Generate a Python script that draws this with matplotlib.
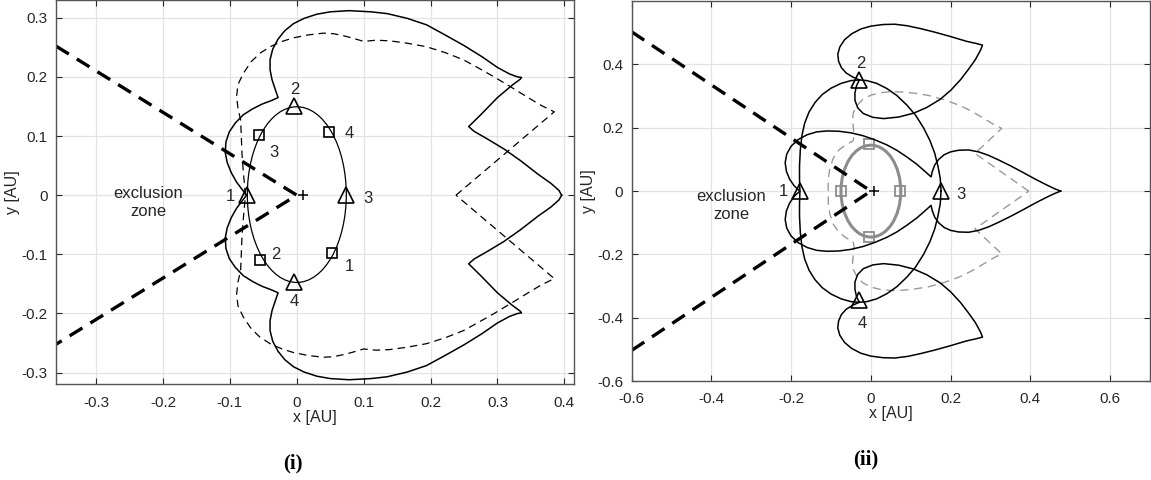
import matplotlib.pyplot as plt
from matplotlib.patches import Ellipse
import numpy as np

plt.rcParams['font.family'] = ['Liberation Sans', 'DejaVu Sans']

# ---- panel (i) data ----
# outer solid boundary, upper half (lower half is its mirror image)
l_sol_x = [0.396, 0.392, 0.380, 0.360, 0.335, 0.310, 0.285, 0.265, 0.257, 0.275, 0.300, 0.322,
           0.334, 0.336, 0.330, 0.318, 0.300, 0.277, 0.250, 0.220, 0.194, 0.165, 0.135, 0.111,
           0.078, 0.050, 0.030, 0.011, -0.005, -0.018, -0.028, -0.036, -0.040, -0.040, -0.037,
           -0.032, -0.028, -0.038, -0.052, -0.066, -0.080, -0.092, -0.101, -0.106, -0.107,
           -0.104, -0.098, -0.090, -0.082, -0.075]
l_sol_y = [0.0, 0.008, 0.020, 0.036, 0.058, 0.078, 0.095, 0.108, 0.116, 0.136, 0.165, 0.186,
           0.196, 0.199, 0.200, 0.205, 0.216, 0.234, 0.253, 0.272, 0.288, 0.299, 0.307, 0.310,
           0.312, 0.310, 0.306, 0.299, 0.290, 0.278, 0.264, 0.247, 0.229, 0.212, 0.195,
           0.178, 0.165, 0.160, 0.154, 0.146, 0.136, 0.122, 0.107, 0.090, 0.072,
           0.055, 0.038, 0.022, 0.010, 0.0]
# dashed boundary, upper half
l_dsh_x = [0.238, 0.385, 0.365, 0.343, 0.320, 0.295, 0.270, 0.249, 0.222, 0.194, 0.165, 0.139,
           0.118, 0.100, 0.085, 0.072, 0.055, 0.040, 0.017, -0.005, -0.022, -0.040, -0.055,
           -0.068, -0.080, -0.088, -0.090, -0.088, -0.084, -0.083, -0.082, -0.080, -0.078, -0.077]
l_dsh_y = [0.0, 0.141, 0.152, 0.167, 0.183, 0.200, 0.216, 0.229, 0.241, 0.251, 0.257, 0.261,
           0.262, 0.260, 0.265, 0.269, 0.273, 0.274, 0.271, 0.266, 0.260, 0.251, 0.240,
           0.226, 0.206, 0.187, 0.167, 0.147, 0.127, 0.100, 0.070, 0.040, 0.015, 0.0]
l_tri_x = [-0.075, -0.004, 0.073, -0.004]
l_tri_y = [0.0, 0.150, 0.0, -0.147]
l_tri_lx = [-0.100, -0.003, 0.107, -0.004]
l_tri_ly = [-0.003, 0.178, -0.006, -0.179]
l_sq_x = [0.053, -0.055, -0.056, 0.048]
l_sq_y = [-0.098, -0.110, 0.101, 0.106]
l_sq_lx = [0.079, -0.032, -0.034, 0.078]
l_sq_ly = [-0.120, -0.100, 0.072, 0.105]
l_ell = (0.0, 0.001, 0.148, 0.297)   # cx, cy, width, height
l_excl_x = [-0.36, 0.0, -0.36]
l_excl_y = [0.252, 0.0, -0.252]

# ---- panel (ii) data ----
# big oval through the four triangles, upper half
r_oval_x = [0.176, 0.174, 0.168, 0.160, 0.148, 0.132, 0.112, 0.090, 0.065, 0.040, 0.015, -0.010,
            -0.029, -0.050, -0.075, -0.100, -0.122, -0.140, -0.155, -0.166, -0.173, -0.177,
            -0.179, -0.179, -0.178]
r_oval_y = [0.0, 0.040, 0.080, 0.120, 0.160, 0.200, 0.240, 0.272, 0.302, 0.324, 0.340, 0.349,
            0.351, 0.349, 0.340, 0.325, 0.305, 0.280, 0.250, 0.215, 0.175, 0.130,
            0.080, 0.040, 0.0]
# top petal (bottom petal is its mirror image)
r_pet_x = [-0.029, -0.045, -0.062, -0.074, -0.081, -0.083, -0.078, -0.066, -0.048, -0.025, 0.000,
           0.030, 0.060, 0.092, 0.125, 0.160, 0.200, 0.240, 0.265, 0.280, 0.275, 0.262, 0.245,
           0.225, 0.200, 0.174, 0.140, 0.107, 0.070, 0.032, 0.005, -0.019, -0.033, -0.040,
           -0.040, -0.036, -0.029]
r_pet_y = [0.351, 0.360, 0.373, 0.390, 0.410, 0.432, 0.455, 0.478, 0.497, 0.512, 0.521,
           0.526, 0.527, 0.522, 0.513, 0.502, 0.488, 0.473, 0.466, 0.461, 0.445, 0.415, 0.385,
           0.352, 0.318, 0.290, 0.264, 0.246, 0.234, 0.229, 0.233, 0.245, 0.263, 0.287,
           0.310, 0.333, 0.351]
# right petal + central lobe, upper half
r_lobe_x = [0.476, 0.460, 0.440, 0.412, 0.380, 0.350, 0.321, 0.295, 0.270, 0.245, 0.220, 0.200,
            0.184, 0.170, 0.160, 0.154, 0.151, 0.135, 0.115, 0.090, 0.065, 0.040, 0.010, -0.020,
            -0.050, -0.080, -0.110, -0.136, -0.160, -0.182, -0.200, -0.211, -0.215, -0.212,
            -0.204, -0.192, -0.178]
r_lobe_y = [0.0, 0.008, 0.020, 0.038, 0.060, 0.080, 0.098, 0.113, 0.124, 0.130, 0.129, 0.124,
            0.115, 0.100, 0.082, 0.062, 0.045, 0.063, 0.085, 0.108, 0.129, 0.146, 0.162, 0.175,
            0.184, 0.189, 0.190, 0.187, 0.178, 0.163, 0.142, 0.117, 0.090, 0.063,
            0.038, 0.016, 0.0]
# grey dashed boundary, upper half
r_gd_x = [0.396, 0.261, 0.328, 0.305, 0.280, 0.250, 0.220, 0.183, 0.145, 0.110, 0.080, 0.055,
          0.025, 0.000, -0.020, -0.035, -0.044, -0.046, -0.044, -0.042, -0.045, -0.062, -0.080,
          -0.094, -0.103, -0.107, -0.107]
r_gd_y = [0.0, 0.119, 0.198, 0.213, 0.232, 0.254, 0.272, 0.289, 0.302, 0.309, 0.313, 0.314,
          0.311, 0.303, 0.290, 0.270, 0.248, 0.225, 0.200, 0.175, 0.158, 0.148, 0.130,
          0.105, 0.072, 0.036, 0.0]
r_tri_x = [-0.178, -0.029, 0.176, -0.029]
r_tri_y = [0.0, 0.351, 0.0, -0.344]
r_tri_lx = [-0.220, -0.026, 0.226, -0.021]
r_tri_ly = [0.0, 0.403, -0.010, -0.418]
r_sq_x = [-0.075, -0.004, 0.074, -0.004]
r_sq_y = [0.0, 0.148, 0.0, -0.144]
r_ell = (0.0, 0.0, 0.150, 0.290)
r_excl_x = [-0.6, 0.0, -0.6]
r_excl_y = [0.503, 0.0, -0.503]

labels = ['1', '2', '3', '4']
dark = '#262626'


def full(xs, ys):
    # upper half + mirrored lower half
    xs = np.array(xs)
    ys = np.array(ys)
    return np.r_[xs, xs[::-1]], np.r_[ys, -ys[::-1]]


def style(ax, xt, yt):
    ax.set_xticks(xt)
    ax.set_yticks(yt)
    ax.set_xticklabels(['0' if v == 0 else '%g' % v for v in xt])
    ax.set_yticklabels(['0' if v == 0 else '%g' % v for v in yt])
    ax.tick_params(direction='in', top=True, right=True, length=4, width=0.8,
                   colors=dark, labelsize=11)
    ax.tick_params(axis='x', pad=8)
    ax.tick_params(axis='y', pad=6)
    ax.grid(True, color='#e3e3e3', lw=0.9)
    ax.set_axisbelow(True)
    for s in ax.spines.values():
        s.set_color('#555555')
        s.set_linewidth(1.0)
    ax.set_xlabel('x [AU]', fontsize=11.5, color=dark, labelpad=0)
    ax.set_ylabel('y [AU]', fontsize=11.5, color=dark, labelpad=1)


fig = plt.figure(figsize=(11.51, 4.8), dpi=100)

# ---------- (i) ----------
ax = fig.add_axes([0.0487, 0.199, 0.4503, 0.801])
ax.plot(l_excl_x, l_excl_y, color='k', lw=2.4, ls=(0, (4.5, 2.8)))
x, y = full(l_dsh_x, l_dsh_y)
ax.plot(x, y, color='k', lw=0.9, ls=(0, (6, 4)))
x, y = full(l_sol_x, l_sol_y)
ax.plot(x, y, color='k', lw=1.1)
ax.add_patch(Ellipse(l_ell[:2], l_ell[2], l_ell[3], fill=False, ec='k', lw=0.9))
ax.plot(l_tri_x, l_tri_y, '^', ms=11, mfc='none', mec='k', mew=1.2)
ax.plot(l_sq_x, l_sq_y, 's', ms=7.5, mfc='none', mec='k', mew=1.2)
ax.plot(0.01, 0, '+', color='k', ms=7, mew=1.1)
for i in range(4):
    ax.text(l_tri_lx[i], l_tri_ly[i], labels[i], fontsize=12, ha='center', va='center', color=dark)
    ax.text(l_sq_lx[i], l_sq_ly[i], labels[i], fontsize=12, ha='center', va='center', color=dark)
ax.text(-0.222, -0.012, 'exclusion\nzone', fontsize=12, ha='center', va='center',
        linespacing=1.25, color=dark)
ax.set_xlim(-0.36, 0.415)
ax.set_ylim(-0.32, 0.33)
style(ax, np.round(np.arange(-0.3, 0.41, 0.1), 1), np.round(np.arange(-0.3, 0.31, 0.1), 1))

# ---------- (ii) ----------
ax = fig.add_axes([0.5488, 0.206, 0.4503, 0.7917])
ax.plot(r_excl_x, r_excl_y, color='k', lw=2.4, ls=(0, (4.5, 2.8)))
x, y = full(r_gd_x, r_gd_y)
ax.plot(x, y, color='#9a9a9a', lw=1.0, ls=(0, (6, 4)))
ax.add_patch(Ellipse(r_ell[:2], r_ell[2], r_ell[3], fill=False, ec='#8c8c8c', lw=2.2))
ax.plot(r_sq_x, r_sq_y, 's', ms=7.5, mfc='none', mec='#8c8c8c', mew=1.3)
x, y = full(r_oval_x, r_oval_y)
ax.plot(x, y, color='k', lw=1.1)
ax.plot(r_pet_x, r_pet_y, color='k', lw=1.1)
ax.plot(r_pet_x, -np.array(r_pet_y), color='k', lw=1.1)
x, y = full(r_lobe_x, r_lobe_y)
ax.plot(x, y, color='k', lw=1.1)
ax.plot(r_tri_x, r_tri_y, '^', ms=11, mfc='none', mec='k', mew=1.2)
ax.plot(0.008, 0, '+', color='k', ms=7, mew=1.1)
for i in range(4):
    ax.text(r_tri_lx[i], r_tri_ly[i], labels[i], fontsize=12, ha='center', va='center', color=dark)
ax.text(-0.35, -0.046, 'exclusion\nzone', fontsize=12, ha='center', va='center',
        linespacing=1.25, color=dark)
ax.set_xlim(-0.6, 0.7)
ax.set_ylim(-0.6, 0.6)
style(ax, np.round(np.arange(-0.6, 0.61, 0.2), 1), np.round(np.arange(-0.6, 0.41, 0.2), 1))

fig.text(293 / 1151, 1 - 463 / 480, '(i)', fontsize=15, fontweight='bold',
         family='Liberation Serif', ha='center', va='center')
fig.text(866 / 1151, 1 - 459 / 480, '(ii)', fontsize=15, fontweight='bold',
         family='Liberation Serif', ha='center', va='center')

fig.savefig('out.png', dpi=100)
